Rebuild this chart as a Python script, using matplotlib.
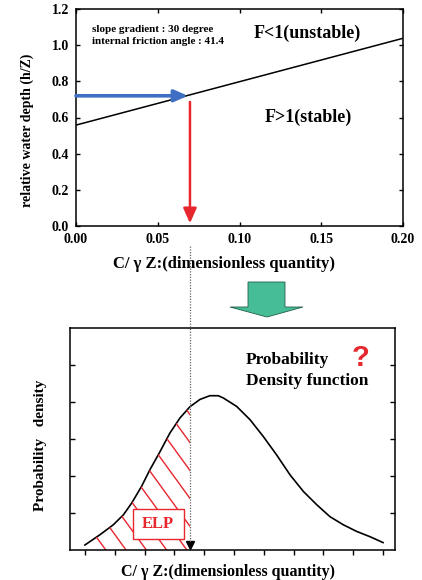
import numpy as np
import matplotlib
matplotlib.use("Agg")
import matplotlib.pyplot as plt
from matplotlib.lines import Line2D
from matplotlib.patches import Rectangle, Polygon

plt.rcParams['font.family'] = ['Liberation Serif', 'DejaVu Serif']
plt.rcParams['font.weight'] = 'bold'

# ---------------- data ----------------
# top panel: critical line h/Z vs C/(gamma Z)
line_x = [0.0, 0.20]
line_y = [0.558, 1.038]
top_xticks = [0.00, 0.05, 0.10, 0.15, 0.20]
top_xticklabels = ["0.00", "0.05", "0.10", "0.15", "0.20"]
top_yticks = [0.0, 0.2, 0.4, 0.6, 0.8, 1.0, 1.2]
top_yticklabels = ["0.0", "0.2", "0.4", "0.6", "0.8", "1.0", "1.2"]
water_depth = 0.72        # blue arrow level
critical_c = 0.0685       # intersection -> red arrow
red_start = 0.686

# bottom panel: probability density curve
pdf_x = [0.0, 0.50, 0.95, 1.29, 1.57, 1.90, 2.18, 2.52, 2.85, 3.19, 3.52, 3.86,
         4.19, 4.47, 4.64, 5.09, 5.54, 5.98, 6.43, 6.88, 7.33, 7.78, 8.22,
         8.67, 9.12, 9.56, 10.0]
pdf_y = [0.135, 0.41, 0.68, 0.95, 1.27, 1.72, 2.17, 2.66, 3.16, 3.57, 3.87, 4.07,
         4.17, 4.17, 4.11, 3.88, 3.52, 3.07, 2.57, 2.03, 1.58, 1.22, 0.90,
         0.68, 0.50, 0.36, 0.20]
bot_xticks = list(range(0, 11))
bot_yticks = [1, 2, 3, 4, 5]

BLUE = '#3f6fc2'
RED = '#e8262e'
GREEN = '#46bd96'

fig = plt.figure(figsize=(4.22, 5.8), dpi=100)
W, H = 422.0, 580.0

# ---------------- top axes ----------------
ax1 = fig.add_axes([76 / W, 1 - 226 / H, 327 / W, 217 / H])
ax1.plot(line_x, line_y, color='black', lw=1.1)
ax1.set_xlim(0, 0.2)
ax1.set_ylim(0, 1.2)
ax1.set_xticks(top_xticks)
ax1.set_xticklabels(top_xticklabels)
ax1.set_yticks(top_yticks)
ax1.set_yticklabels(top_yticklabels)
ax1.tick_params(direction='in', length=3, width=1, top=True, right=True,
                labelsize=10, pad=5)
for s in ax1.spines.values():
    s.set_linewidth(1.1)
ax1.set_xlabel("C/ γ Z:(dimensionless quantity)", fontsize=12, fontweight='bold')
ax1.xaxis.set_label_coords(0.453, -0.138)
ax1.set_ylabel("relative water depth (h/Z)", fontsize=10, fontweight='bold')
ax1.yaxis.set_label_coords(-0.128, 0.44)

ax1.text(0.0095, 1.085, "slope gradient : 30 degree", fontsize=8, fontweight='bold', va='center')
ax1.text(0.0095, 1.02, "internal friction angle : 41.4", fontsize=8, fontweight='bold', va='center')
ax1.text(0.1085, 1.065, "F<1(unstable)", fontsize=13, fontweight='bold', va='center')
ax1.text(0.1155, 0.6, "F>1(stable)", fontsize=13, fontweight='bold', va='center')

# blue arrow
ax1.annotate('', xy=(critical_c, water_depth), xytext=(0.0, water_depth),
             arrowprops=dict(arrowstyle='-|>,head_length=0.8,head_width=0.35',
                             color=BLUE, lw=2.6, shrinkA=0, shrinkB=0),
             annotation_clip=False)
# red arrow
ax1.annotate('', xy=(critical_c + 0.0012, 0.015), xytext=(critical_c + 0.0012, red_start),
             arrowprops=dict(arrowstyle='-|>,head_length=0.9,head_width=0.4',
                             color=RED, lw=1.8, shrinkA=0, shrinkB=0),
             annotation_clip=False)

# ---------------- bottom axes ----------------
ax2 = fig.add_axes([70 / W, 1 - 550 / H, 325 / W, 222 / H])
ax2.set_xlim(-0.5, 10.4)
ax2.set_ylim(0, 6)
ax2.plot(pdf_x, pdf_y, color='black', lw=1.2, solid_joinstyle='round')
ax2.set_xticks(bot_xticks)
ax2.set_yticks(bot_yticks)
ax2.tick_params(axis='x', direction='out', length=3.5, width=1, labelbottom=False)
ax2.tick_params(axis='y', direction='in', length=3.5, width=1, left=True, right=True,
                labelleft=False)
for s in ax2.spines.values():
    s.set_linewidth(1.1)
ax2.set_xlabel("C/ γ Z:(dimensionless quantity)", fontsize=11.5, fontweight='bold')
ax2.xaxis.set_label_coords(0.486, -0.062)
ax2.set_ylabel("Probability   density", fontsize=11, fontweight='bold')
ax2.yaxis.set_label_coords(-0.072, 0.47)

ax2.text(5.4, 5.13, "Probability", fontsize=12.5, fontweight='bold', va='center')
ax2.text(5.4, 4.58, "Density function", fontsize=12.5, fontweight='bold', va='center')
ax2.text(8.95, 5.2, "?", fontsize=21, fontweight='bold', color=RED, va='center',
         family=['Liberation Sans', 'DejaVu Sans'])

# map critical value from top axes to bottom axes data coordinates
fig.canvas.draw()
disp_x = ax1.transData.transform((critical_c + 0.0012, 0))[0]
xb = ax2.transData.inverted().transform((disp_x, 0))[0]

# hatched area under the pdf up to the critical value
px = np.array(pdf_x)
py = np.array(pdf_y)
mask = px <= xb
yb = np.interp(xb, px, py)
poly_x = np.concatenate([px[mask], [xb, xb, px[0]]])
poly_y = np.concatenate([py[mask], [yb, 0, 0]])
clip = Polygon(np.column_stack([poly_x, poly_y]), closed=True, transform=ax2.transData,
               facecolor='none', edgecolor='none')
ax2.add_patch(clip)
slope = -1.11
for c in np.arange(0.7, 7.0, 0.68):
    xs = np.array([c - 7.0, c])
    ln, = ax2.plot(xs, slope * (xs - c), color=RED, lw=1.0)
    ln.set_clip_path(clip)

# ELP box
ax2.add_patch(Rectangle((1.6, 0.29), 1.72, 0.82, facecolor='white', edgecolor=RED,
                        lw=1.0, zorder=4))
ax2.text(2.46, 0.70, "ELP", color=RED, fontsize=12, fontweight='bold',
         ha='center', va='center', zorder=5)

# dotted vertical connecting line and arrowhead
fx = disp_x / W
fig.add_artist(Line2D([fx, fx], [1 - 246 / H, 1 - 543 / H], color='#666666',
                      lw=0.9, linestyle=(0, (1, 1.2))))
ax2.plot([xb], [0.14], marker='v', color='black', markersize=6, clip_on=False, zorder=6)

# green block arrow
garrow = Polygon([[248 / W, 1 - 282 / H], [285 / W, 1 - 282 / H], [285 / W, 1 - 307 / H],
                  [303 / W, 1 - 307 / H], [267 / W, 1 - 317 / H], [230 / W, 1 - 307 / H],
                  [248 / W, 1 - 307 / H]], closed=True, transform=fig.transFigure,
                 facecolor=GREEN, edgecolor='#1f5f4a', lw=0.6)
fig.add_artist(garrow)

fig.savefig("out.png", dpi=100)
